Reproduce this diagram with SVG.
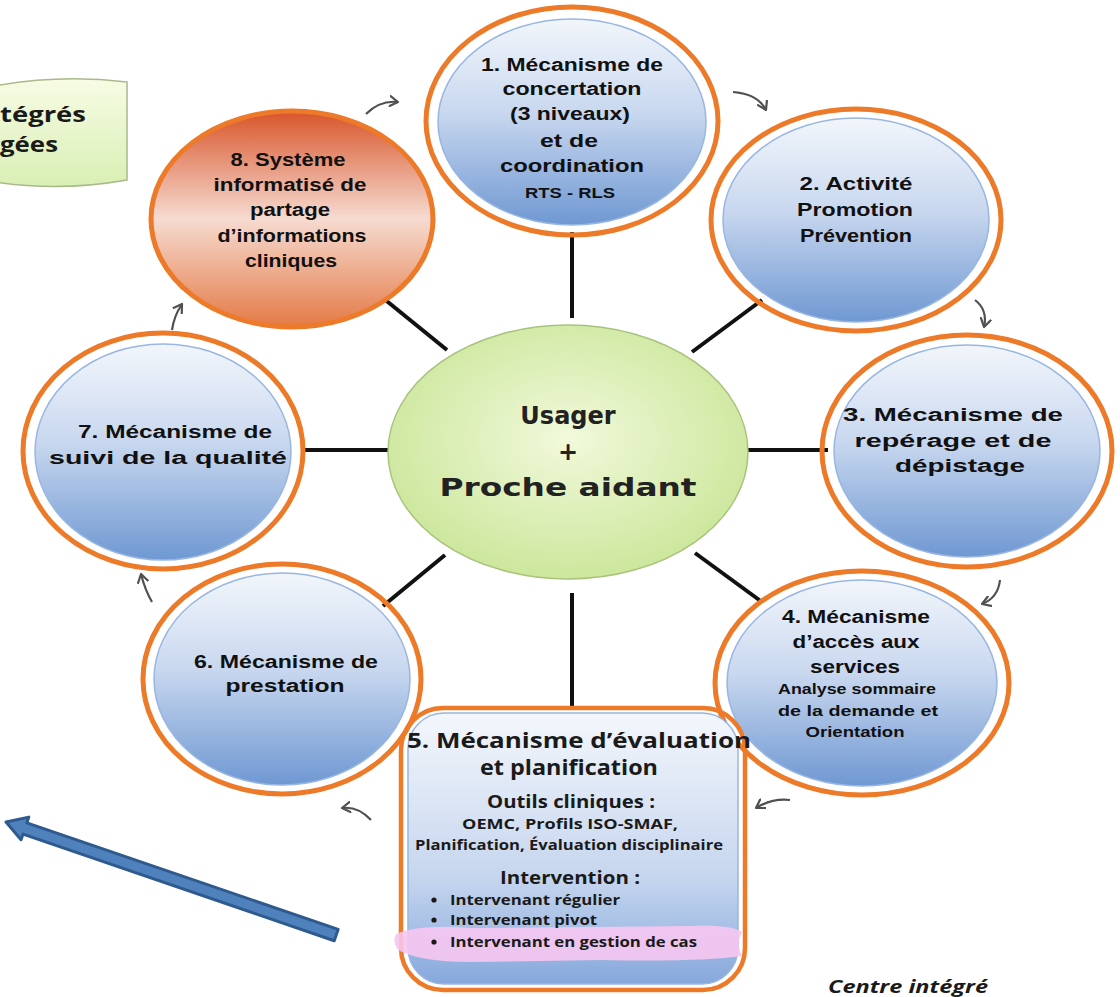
<svg xmlns="http://www.w3.org/2000/svg" width="1120" height="997" viewBox="0 0 1120 997">
<defs>
<linearGradient id="gBlue" x1="0" y1="0" x2="0" y2="1">
<stop offset="0" stop-color="#f2f6fb"/><stop offset="0.45" stop-color="#c9d8ef"/><stop offset="1" stop-color="#6f98d2"/>
</linearGradient>
<linearGradient id="gBox" x1="0" y1="0" x2="0" y2="1">
<stop offset="0" stop-color="#f4f7fc"/><stop offset="0.6" stop-color="#c6d6ee"/><stop offset="1" stop-color="#86a8dc"/>
</linearGradient>
<linearGradient id="gRed" x1="0" y1="0" x2="0" y2="1">
<stop offset="0" stop-color="#d8552b"/><stop offset="0.5" stop-color="#f6dbd0"/><stop offset="1" stop-color="#e47a46"/>
</linearGradient>
<radialGradient id="gGreen" cx="0.5" cy="0.45" r="0.6">
<stop offset="0" stop-color="#f1f9db"/><stop offset="1" stop-color="#c9e596"/>
</radialGradient>
<linearGradient id="gBan" x1="0" y1="0" x2="0" y2="1">
<stop offset="0" stop-color="#f7fce4"/><stop offset="1" stop-color="#d9efb4"/>
</linearGradient>
<marker id="chev" viewBox="0 0 12 12" refX="9" refY="6" markerWidth="12" markerHeight="12" markerUnits="userSpaceOnUse" orient="auto">
<path d="M1 1 L9 6 L1 11" fill="none" stroke="#505050" stroke-width="2.2" stroke-linecap="round" stroke-linejoin="round"/>
</marker>
<style>
.ring{fill:none;stroke:#ec7a28;stroke-width:5}
.inner{fill:url(#gBlue);stroke:#98b6e2;stroke-width:1.5}
.t{font-family:"Liberation Sans",Arial,sans-serif;font-weight:bold;fill:#111;text-anchor:middle}
.c{font-family:"Open Sans","Liberation Sans",sans-serif;font-weight:bold;fill:#1a1a1a;text-anchor:middle}
.cl{font-family:"Open Sans","Liberation Sans",sans-serif;font-weight:bold;fill:#1a1a1a}
.link{stroke:#111;stroke-width:4}
.cur{fill:none;stroke:#505050;stroke-width:2.2;marker-end:url(#chev)}
</style>
</defs>
<rect width="1120" height="997" fill="#ffffff"/>

<g id="banner">
<path d="M-5 86 Q60 74 127 82 L127 180 Q60 192 -5 182 Z" fill="url(#gBan)" stroke="#a9b98a" stroke-width="1.5"/>
<text class="cl" x="0" y="122" font-size="22" textLength="86" lengthAdjust="spacingAndGlyphs">tégrés</text>
<text class="cl" x="0" y="152" font-size="22" textLength="58" lengthAdjust="spacingAndGlyphs">gées</text>
</g>

<g id="connectors">
<line class="link" x1="572" y1="232" x2="572" y2="318"/>
<line class="link" x1="692" y1="352" x2="762" y2="300"/>
<line class="link" x1="746" y1="450" x2="828" y2="450"/>
<line class="link" x1="695" y1="553" x2="762" y2="602"/>
<line class="link" x1="572" y1="593" x2="572" y2="708"/>
<line class="link" x1="445" y1="555" x2="383" y2="606"/>
<line class="link" x1="305" y1="450" x2="390" y2="450"/>
<line class="link" x1="447" y1="350" x2="383" y2="298"/>
<path class="cur" d="M366 114 Q380 100 398 102"/>
<path class="cur" d="M733 92 Q758 94 766 110"/>
<path class="cur" d="M975 300 Q988 310 984 327"/>
<path class="cur" d="M1000 580 Q998 598 982 604"/>
<path class="cur" d="M790 800 Q772 798 756 808"/>
<path class="cur" d="M371 820 Q358 806 342 808"/>
<path class="cur" d="M152 602 Q145 590 141 574"/>
<path class="cur" d="M172 330 Q174 316 182 304"/>
</g>

<g id="center">
<ellipse cx="568" cy="452" rx="180" ry="127" fill="url(#gGreen)" stroke="#a9c27e" stroke-width="1.5"/>
<text x="568" y="424" font-family="DejaVu Sans,Verdana,sans-serif" font-weight="bold" font-size="24" text-anchor="middle" fill="#222">Usager</text>
<text x="568" y="460" font-family="DejaVu Sans,Verdana,sans-serif" font-weight="bold" font-size="24" text-anchor="middle" fill="#222">+</text>
<text x="568" y="496" font-family="DejaVu Sans,Verdana,sans-serif" font-weight="bold" font-size="24" text-anchor="middle" fill="#222" textLength="257" lengthAdjust="spacingAndGlyphs">Proche aidant</text>
</g>

<g id="node1">
<ellipse class="inner" cx="572" cy="122" rx="134" ry="103"/>
<ellipse class="ring" cx="572" cy="121" rx="146" ry="114"/>
<text class="t" x="572" y="71" font-size="18" textLength="182" lengthAdjust="spacingAndGlyphs">1. Mécanisme de</text>
<text class="t" x="572" y="95" font-size="18" textLength="139" lengthAdjust="spacingAndGlyphs">concertation</text>
<text class="t" x="570" y="120" font-size="18" textLength="120" lengthAdjust="spacingAndGlyphs">(3  niveaux)</text>
<text class="t" x="569" y="147" font-size="18" textLength="58" lengthAdjust="spacingAndGlyphs">et de</text>
<text class="t" x="572" y="172" font-size="18" textLength="144" lengthAdjust="spacingAndGlyphs">coordination</text>
<text class="t" x="570" y="198" font-size="15" textLength="90" lengthAdjust="spacingAndGlyphs">RTS  - RLS</text>
</g>

<g id="node2">
<ellipse class="inner" cx="856" cy="220" rx="133" ry="102"/>
<ellipse class="ring" cx="856" cy="220" rx="145" ry="111"/>
<text class="t" x="856" y="190" font-size="18" textLength="113" lengthAdjust="spacingAndGlyphs">2. Activité</text>
<text class="t" x="855" y="216" font-size="18" textLength="116" lengthAdjust="spacingAndGlyphs">Promotion</text>
<text class="t" x="856" y="242" font-size="18" textLength="112" lengthAdjust="spacingAndGlyphs">Prévention</text>
</g>

<g id="node3">
<ellipse class="inner" cx="967" cy="451" rx="133" ry="106"/>
<ellipse class="ring" cx="967" cy="451" rx="145" ry="116"/>
<text class="t" x="953" y="421" font-size="18" textLength="220" lengthAdjust="spacingAndGlyphs">3. Mécanisme de</text>
<text class="t" x="953" y="447" font-size="18" textLength="197" lengthAdjust="spacingAndGlyphs">repérage et de</text>
<text class="t" x="960" y="472" font-size="18" textLength="130" lengthAdjust="spacingAndGlyphs">dépistage</text>
</g>

<g id="node4">
<ellipse class="inner" cx="862" cy="683" rx="135" ry="103"/>
<ellipse class="ring" cx="862" cy="683" rx="147" ry="112"/>
<text class="t" x="856" y="623" font-size="18" textLength="148" lengthAdjust="spacingAndGlyphs">4. Mécanisme</text>
<text class="t" x="856" y="648" font-size="18" textLength="127" lengthAdjust="spacingAndGlyphs">d’accès aux</text>
<text class="t" x="855" y="673" font-size="18" textLength="90" lengthAdjust="spacingAndGlyphs">services</text>
<text class="t" x="857" y="694" font-size="15" textLength="158" lengthAdjust="spacingAndGlyphs">Analyse  sommaire</text>
<text class="t" x="858" y="716" font-size="15" textLength="160" lengthAdjust="spacingAndGlyphs">de la demande  et</text>
<text class="t" x="855" y="737" font-size="15" textLength="99" lengthAdjust="spacingAndGlyphs">Orientation</text>
</g>

<g id="node6">
<ellipse class="inner" cx="282" cy="679" rx="128" ry="106"/>
<ellipse class="ring" cx="282" cy="679" rx="139" ry="115"/>
<text class="t" x="286" y="668" font-size="18" textLength="184" lengthAdjust="spacingAndGlyphs">6. Mécanisme de</text>
<text class="t" x="285" y="692" font-size="18" textLength="119" lengthAdjust="spacingAndGlyphs">prestation</text>
</g>

<g id="node7">
<ellipse class="inner" cx="163" cy="452" rx="128" ry="108"/>
<ellipse class="ring" cx="163" cy="451" rx="140" ry="118"/>
<text class="t" x="175" y="438" font-size="18" textLength="194" lengthAdjust="spacingAndGlyphs">7. Mécanisme de</text>
<text class="t" x="168" y="464" font-size="18" textLength="238" lengthAdjust="spacingAndGlyphs">suivi de la qualité</text>
</g>

<g id="node8">
<ellipse cx="292" cy="219" rx="141" ry="108" fill="url(#gRed)" stroke="#ec7a28" stroke-width="5"/>
<text class="t" x="288" y="166" font-size="18" textLength="115" lengthAdjust="spacingAndGlyphs">8. Système</text>
<text class="t" x="290" y="191" font-size="18" textLength="153" lengthAdjust="spacingAndGlyphs">informatisé de</text>
<text class="t" x="290" y="216" font-size="18" textLength="80" lengthAdjust="spacingAndGlyphs">partage</text>
<text class="t" x="292" y="242" font-size="18" textLength="149" lengthAdjust="spacingAndGlyphs">d’informations</text>
<text class="t" x="291" y="267" font-size="18" textLength="92" lengthAdjust="spacingAndGlyphs">cliniques</text>
</g>

<g id="node5">
<rect x="408" y="713" width="330" height="271" rx="36" fill="url(#gBox)" stroke="#98b6e2" stroke-width="1.5"/>
<rect x="401" y="708" width="344" height="282" rx="42" fill="none" stroke="#ec7a28" stroke-width="4.5"/>
<path d="M396 934 Q420 924 470 928 L690 926 Q728 924 742 932 Q735 944 742 956 Q700 962 600 960 L470 962 Q420 962 398 950 Q392 942 396 934 Z" fill="#f6c6f0" opacity="0.9"/>
<text class="c" x="579" y="748" font-size="21" textLength="344" lengthAdjust="spacingAndGlyphs">5. Mécanisme d’évaluation</text>
<text class="c" x="569" y="775" font-size="21" textLength="178" lengthAdjust="spacingAndGlyphs">et planification</text>
<text class="c" x="571" y="808" font-size="18" textLength="168" lengthAdjust="spacingAndGlyphs">Outils cliniques :</text>
<text class="c" x="570" y="829" font-size="14" textLength="216" lengthAdjust="spacingAndGlyphs">OEMC, Profils ISO-SMAF,</text>
<text class="c" x="569" y="850" font-size="14" textLength="308" lengthAdjust="spacingAndGlyphs">Planification, Évaluation disciplinaire</text>
<text class="c" x="570" y="884" font-size="18" textLength="140" lengthAdjust="spacingAndGlyphs">Intervention :</text>
<circle cx="434" cy="900" r="2.6" fill="#1a1a1a"/>
<circle cx="434" cy="920" r="2.6" fill="#1a1a1a"/>
<circle cx="434" cy="942" r="2.6" fill="#1a1a1a"/>
<text class="cl" x="450" y="905" font-size="14" textLength="170" lengthAdjust="spacingAndGlyphs">Intervenant régulier</text>
<text class="cl" x="450" y="925" font-size="14" textLength="147" lengthAdjust="spacingAndGlyphs">Intervenant pivot</text>
<text class="cl" x="450" y="947" font-size="14" textLength="247" lengthAdjust="spacingAndGlyphs">Intervenant en gestion de cas</text>
</g>

<g id="bigArrow">
<polygon transform="translate(6,822) rotate(18.9)" points="0,0 20,-12 20,-6 349,-6 349,6 20,6 20,12" fill="#4f81bd" stroke="#2f5a8e" stroke-width="3" stroke-linejoin="round"/>
</g>

<g id="footer">
<text x="828" y="993" font-family="Open Sans,Liberation Sans,sans-serif" font-weight="bold" font-style="italic" font-size="17" fill="#1a1a1a" textLength="160" lengthAdjust="spacingAndGlyphs">Centre intégré</text>
</g>
</svg>
